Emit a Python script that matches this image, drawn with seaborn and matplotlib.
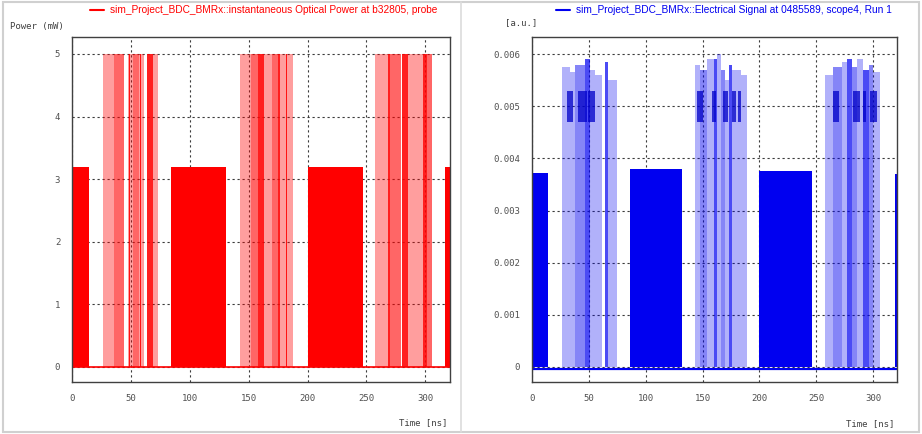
import numpy as np
import seaborn as sns
import matplotlib.pyplot as plt
from matplotlib.lines import Line2D
from matplotlib.patches import Rectangle

sns.set_style("white")
plt.rcParams['font.family'] = ['Liberation Sans', 'DejaVu Sans']

# time axis [ns]
time_ticks = [0, 50, 100, 150, 200, 250, 300]
time_max = 321

# ---- left panel: instantaneous optical power (mW) ----
red_block_start = [0, 84, 200, 317]
red_block_end = [14.5, 131, 247, 322]
red_block_level = [3.2, 3.2, 3.2, 3.2]

red_peak = 5.0
red_burst_start = [26, 36, 47.5, 48, 52, 57, 58, 64, 68.5,
                   143, 152, 157.6, 162.7, 169.5, 174.6, 177, 181.5,
                   257.6, 268, 270, 280.5, 285, 293, 298, 301.7]
red_burst_end = [36, 44, 52, 49, 57, 61, 59, 68.5, 73,
                 152, 157.6, 162.7, 169.5, 174.6, 177, 188, 182.5,
                 268, 270, 279, 285, 293, 298, 301.7, 306]
red_burst_tone = [1, 2, 1, 3, 2, 1, 3, 3, 1,
                  1, 2, 3, 1, 2, 3, 1, 3,
                  1, 3, 2, 3, 1, 1, 3, 2]
power_ticks = [0, 1, 2, 3, 4, 5]

# ---- right panel: electrical signal (a.u.) ----
blue_block_start = [0, 86, 200, 319]
blue_block_end = [14, 132, 246, 322]
blue_block_level = [0.00372, 0.00380, 0.00376, 0.00370]

blue_burst_start = [26.4, 33.5, 38, 46.7, 51, 55.5, 64.3, 67,
                    143.5, 148, 154, 160, 163, 166, 170, 173, 176, 184,
                    258, 265, 273, 277, 281.7, 286, 291, 296, 300]
blue_burst_end = [33.5, 38, 46.7, 51, 55.5, 61.6, 67, 74.8,
                  148, 154, 160, 163, 166, 170, 173, 176, 184, 189,
                  265, 273, 277, 281.7, 286, 291, 296, 300, 306]
blue_burst_top = [0.00575, 0.00565, 0.00580, 0.00590, 0.00570, 0.00560, 0.00585, 0.00550,
                  0.00580, 0.00570, 0.00590, 0.00590, 0.00600, 0.00570, 0.00550, 0.00580, 0.00570, 0.00560,
                  0.00560, 0.00575, 0.00585, 0.00590, 0.00575, 0.00590, 0.00570, 0.00580, 0.00565]
blue_burst_tone = [1, 1, 2, 3, 1, 1, 3, 1,
                   1, 2, 1, 3, 1, 2, 1, 3, 1, 1,
                   1, 2, 1, 3, 2, 1, 3, 2, 1]
blob_start = [31, 40.5, 49.3, 145, 158, 168, 176, 181, 265, 282.6, 291, 297.5]
blob_end = [36, 48.4, 55.5, 150, 162, 172, 179, 184, 270, 288.7, 294, 303.7]
blob_low = 0.0047
blob_high = 0.0053
signal_ticks = [0, 0.001, 0.002, 0.003, 0.004, 0.005, 0.006]
signal_labels = ["0", "0.001", "0.002", "0.003", "0.004", "0.005", "0.006"]

tone_alpha = {1: 0.38, 2: 0.6, 3: 0.88}

fig = plt.figure(figsize=(9.22, 4.34), dpi=100)
fig.patch.set_facecolor("white")
axL = fig.add_axes([72 / 922, 1 - 382 / 434, 378 / 922, 345 / 434])
axR = fig.add_axes([532 / 922, 1 - 382 / 434, 365 / 922, 345 / 434])


def style_axis(ax):
    ax.set_axisbelow(True)
    ax.grid(True, color="#3a3a3a", linestyle=(0, (2, 2.5)), linewidth=0.8)
    for s in ax.spines.values():
        s.set_color("#404040")
        s.set_linewidth(1.0)
    ax.tick_params(direction="inout", length=5, width=0.8, colors="#505050",
                   labelsize=6.5, pad=6)
    for lab in ax.get_xticklabels() + ax.get_yticklabels():
        lab.set_family("DejaVu Sans Mono")
    ax.set_xlim(0, time_max)
    ax.set_xticks(time_ticks)


# left panel
red = "#ff0000"
sns.lineplot(x=[0, time_max], y=[0, 0], ax=axL, color=red, linewidth=1.2)
for s, e, t in zip(red_burst_start, red_burst_end, red_burst_tone):
    axL.bar(s, red_peak, width=e - s, align="edge", color=red,
            alpha=tone_alpha[t], linewidth=0)
axL.bar(red_block_start, red_block_level,
        width=np.subtract(red_block_end, red_block_start), align="edge",
        color=red, linewidth=0)
axL.set_ylim(-0.24, 5.27)
axL.set_yticks(power_ticks)
axL.set_xlabel("")
axL.set_ylabel("")
style_axis(axL)

# right panel
blue = "#0000f0"
sns.lineplot(x=[0, time_max], y=[-0.00004, -0.00004], ax=axR, color=blue, linewidth=1.6)
for s, e, h, t in zip(blue_burst_start, blue_burst_end, blue_burst_top, blue_burst_tone):
    axR.bar(s, h, width=e - s, align="edge", color=blue,
            alpha=tone_alpha[t] * 0.8, linewidth=0)
for s, e in zip(blob_start, blob_end):
    axR.bar(s, blob_high - blob_low, width=e - s, bottom=blob_low, align="edge",
            color="#0000c8", alpha=0.75, linewidth=0)
axR.bar(blue_block_start, blue_block_level,
        width=np.subtract(blue_block_end, blue_block_start), align="edge",
        color=blue, linewidth=0)
axR.set_ylim(-0.00029, 0.00633)
axR.set_yticks(signal_ticks)
axR.set_yticklabels(signal_labels)
axR.set_xlabel("")
axR.set_ylabel("")
style_axis(axR)

# legends and axis titles
fig.add_artist(Line2D([90 / 922, 104 / 922], [1 - 10 / 434] * 2, color=red, linewidth=1.5))
fig.text(110 / 922, 1 - 10 / 434, "sim_Project_BDC_BMRx::instantaneous Optical Power at b32805, probe",
         color=red, fontsize=7.3, va="center", ha="left")
fig.add_artist(Line2D([556 / 922, 570 / 922], [1 - 10 / 434] * 2, color=blue, linewidth=1.5))
fig.text(576 / 922, 1 - 10 / 434, "sim_Project_BDC_BMRx::Electrical Signal at 0485589, scope4, Run 1",
         color=blue, fontsize=7.3, va="center", ha="left")

mono = dict(family="DejaVu Sans Mono", fontsize=6.5, color="#404040", va="center")
fig.text(10 / 922, 1 - 26 / 434, "Power (mW)", ha="left", **mono)
fig.text(505 / 922, 1 - 23 / 434, "[a.u.]", ha="left", **mono)
fig.text(447 / 922, 1 - 423 / 434, "Time [ns]", ha="right", **mono)
fig.text(894 / 922, 1 - 424 / 434, "Time [ns]", ha="right", **mono)

# screenshot frame and divider
fig.add_artist(Rectangle((0.003, 0.005), 0.994, 0.99, transform=fig.transFigure,
                         fill=False, edgecolor="#d0d0d0", linewidth=1.5))
fig.add_artist(Line2D([461 / 922, 461 / 922], [0.005, 0.995], color="#dcdcdc", linewidth=1.2))

fig.savefig("out.png", dpi=100)
plt.close(fig)
